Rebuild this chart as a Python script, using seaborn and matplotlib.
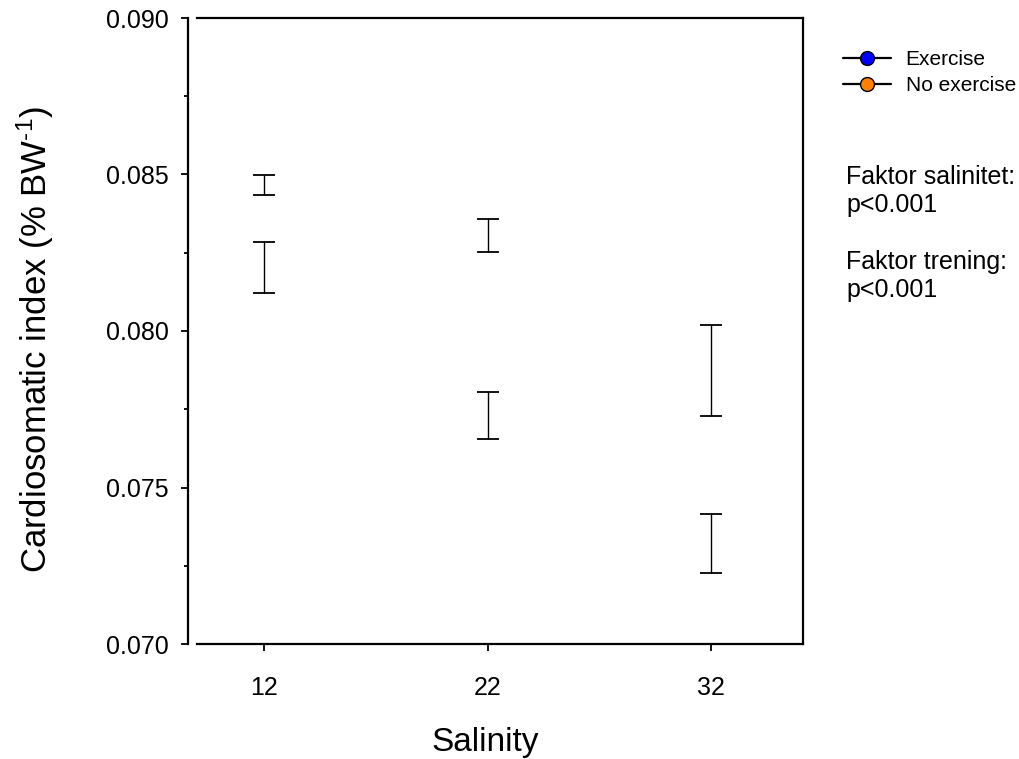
import numpy as np
import matplotlib
matplotlib.use("Agg")
import matplotlib.pyplot as plt
from matplotlib.lines import Line2D
from matplotlib.ticker import MultipleLocator
import seaborn as sns

# ---- data ----
salinity = [12, 22, 32]
exercise_mean = [0.08467, 0.08304, 0.07874]
exercise_err = [0.00031, 0.00053, 0.00145]
noex_mean = [0.08203, 0.07729, 0.07320]
noex_err = [0.00081, 0.00075, 0.00094]
series_names = ["Exercise", "No exercise"]
series_colors = ["#0000ff", "#ff7f00"]
y_ticks = [0.070, 0.075, 0.080, 0.085, 0.090]
y_ticklabels = ["0.070", "0.075", "0.080", "0.085", "0.090"]
x_ticklabels = ["12", "22", "32"]
annotation_lines = ["Faktor salinitet:", "p<0.001", "Faktor trening:", "p<0.001"]

sns.set_theme(style="white")
plt.rcParams["font.family"] = ["Liberation Sans", "DejaVu Sans"]
plt.rcParams["mathtext.fontset"] = "custom"
plt.rcParams["mathtext.rm"] = "Liberation Sans"
plt.rcParams["mathtext.it"] = "Liberation Sans"
plt.rcParams["text.color"] = "black"

fig = plt.figure(figsize=(10.19, 7.59), dpi=100)
ax = fig.add_axes([197 / 1019, 1 - 644 / 759, 606 / 1019, 626 / 759])

for mean, err in [(exercise_mean, exercise_err), (noex_mean, noex_err)]:
    ax.errorbar(salinity, mean, yerr=err, fmt="none", ecolor="black",
                elinewidth=1.0, capsize=8, capthick=1.3)

ax.set_xlim(9, 36.1)
ax.set_ylim(0.070, 0.090)
ax.set_yticks(y_ticks)
ax.set_yticklabels(y_ticklabels)
ax.yaxis.set_minor_locator(MultipleLocator(0.0025))
ax.set_xticks(salinity)
ax.set_xticklabels(x_ticklabels)

for s in ["top", "right", "bottom", "left"]:
    ax.spines[s].set_color("black")
    ax.spines[s].set_linewidth(1.6)
ax.spines["left"].set_position(("outward", 6.2))

ax.tick_params(axis="y", which="major", direction="out", length=5, width=1.3,
               pad=9, labelsize=18, left=True, colors="black")
ax.tick_params(axis="y", which="minor", direction="out", length=3, width=1.3,
               left=True, colors="black")
ax.tick_params(axis="x", which="major", direction="out", length=5, width=1.3,
               pad=18, labelsize=18, bottom=True, colors="black")

ax.set_xlabel("Salinity", fontsize=24, color="black")
ax.set_ylabel(r"Cardiosomatic index (% BW$^{\text{-}1}$)", fontsize=25, color="black")
ax.xaxis.set_label_coords(0.475, -0.157)
ax.xaxis.label.set_va("center")
ax.yaxis.set_label_coords(-0.267, 0.486)
ax.yaxis.label.set_va("center")

handles = [Line2D([0], [0], color="black", lw=1.6, marker="o", markersize=10,
                  markerfacecolor=c, markeredgecolor="black", markeredgewidth=1.0)
           for c in series_colors]
leg = fig.legend(handles, series_names, loc="upper left",
                 bbox_to_anchor=(843 / 1019, 1 - 50 / 759), frameon=False,
                 fontsize=15, handlelength=2.3, handletextpad=0.7,
                 labelspacing=0.35, borderaxespad=0, borderpad=0,
                 labelcolor="black")

line_y = [177, 205, 262, 290]
for txt, yy in zip(annotation_lines, line_y):
    fig.text(846 / 1019, 1 - yy / 759, txt, fontsize=18, va="center",
             ha="left", color="black")

fig.savefig("out.png", dpi=100)
